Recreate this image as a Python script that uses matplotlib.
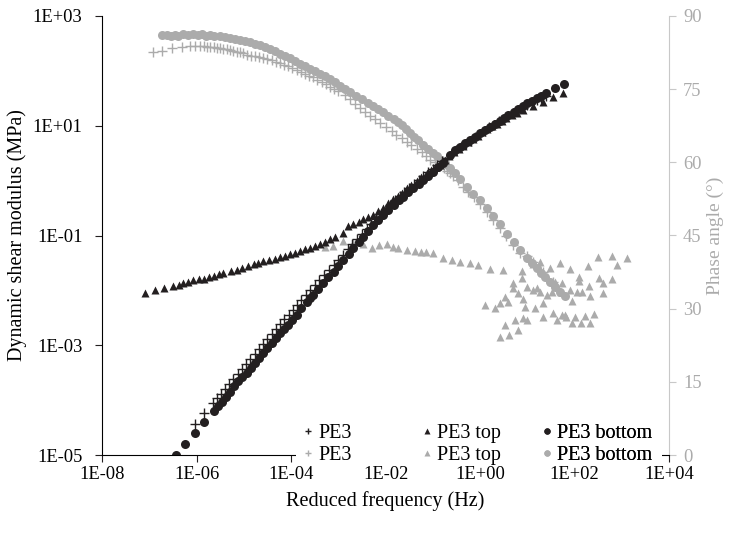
import matplotlib

matplotlib.use("Agg")

import matplotlib.pyplot as plt
import numpy as np
from matplotlib.patches import Rectangle
from matplotlib.ticker import FixedLocator, FuncFormatter

# Master curves: (log10 reduced frequency [Hz], log10 |G*| [MPa])
pe3_modulus = [
    (-6.03, -4.44), (-5.84, -4.24), (-5.66, -4.06), (-5.57, -3.97), (-5.48, -3.88), (-5.40, -3.80),
    (-5.31, -3.71), (-5.22, -3.62), (-5.13, -3.52), (-5.04, -3.43), (-4.95, -3.34), (-4.86, -3.25),
    (-4.77, -3.16), (-4.68, -3.07), (-4.59, -2.98), (-4.50, -2.89), (-4.41, -2.80), (-4.32, -2.71),
    (-4.23, -2.62), (-4.14, -2.53), (-4.05, -2.44), (-3.96, -2.35), (-3.87, -2.27), (-3.78, -2.18),
    (-3.69, -2.09), (-3.60, -2.00), (-3.50, -1.91), (-3.40, -1.82), (-3.30, -1.72), (-3.20, -1.63),
    (-3.10, -1.53), (-3.00, -1.44), (-2.90, -1.35), (-2.80, -1.25), (-2.70, -1.16), (-2.60, -1.06),
    (-2.50, -0.97), (-2.40, -0.88), (-2.30, -0.79), (-2.20, -0.70), (-2.10, -0.61), (-2.00, -0.52),
    (-1.90, -0.44), (-1.80, -0.36), (-1.70, -0.28), (-1.60, -0.20), (-1.50, -0.13), (-1.40, -0.06),
    (-1.30, 0.01), (-1.20, 0.08), (-1.10, 0.15), (-1.00, 0.22), (-0.90, 0.29), (-0.80, 0.36),
    (-0.70, 0.42), (-0.60, 0.48), (-0.50, 0.55), (-0.40, 0.61), (-0.30, 0.67), (-0.20, 0.73),
    (-0.10, 0.79), (0.00, 0.85), (0.10, 0.91), (0.20, 0.97), (0.30, 1.02), (0.40, 1.08),
    (0.50, 1.13), (0.60, 1.18), (0.70, 1.23), (0.80, 1.28), (0.90, 1.33), (1.00, 1.38),
    (1.10, 1.43), (1.20, 1.47), (1.30, 1.51), (1.40, 1.55),
]

top_modulus = [
    (-7.08, -2.04), (-6.88, -2.00), (-6.68, -1.96), (-6.49, -1.92), (-6.38, -1.90), (-6.28, -1.87),
    (-6.17, -1.85), (-6.07, -1.82), (-5.95, -1.80), (-5.84, -1.79), (-5.74, -1.76), (-5.64, -1.74),
    (-5.53, -1.71), (-5.43, -1.69), (-5.26, -1.64), (-5.15, -1.62), (-5.04, -1.59), (-4.91, -1.55),
    (-4.78, -1.52), (-4.69, -1.50), (-4.59, -1.47), (-4.46, -1.44), (-4.34, -1.42), (-4.23, -1.39),
    (-4.13, -1.37), (-4.02, -1.34), (-3.92, -1.31), (-3.81, -1.28), (-3.70, -1.25), (-3.60, -1.22),
    (-3.49, -1.19), (-3.38, -1.16), (-3.28, -1.12), (-3.17, -1.07), (-3.07, -1.02), (-2.91, -0.96),
    (-2.79, -0.83), (-2.68, -0.79), (-2.57, -0.75), (-2.47, -0.70), (-2.36, -0.66), (-2.26, -0.62),
    (-2.15, -0.56), (-2.05, -0.49), (-1.95, -0.41), (-1.84, -0.34), (-1.74, -0.28), (-1.65, -0.22),
    (-1.55, -0.14), (-1.45, -0.08), (-1.34, 0.00), (-1.24, 0.06), (-1.13, 0.13), (-1.03, 0.19),
    (-0.94, 0.24), (-0.85, 0.29), (-0.75, 0.38), (-0.65, 0.45), (-0.55, 0.52), (-0.45, 0.58),
    (-0.35, 0.64), (-0.25, 0.70), (-0.15, 0.76), (-0.05, 0.82), (0.05, 0.88), (0.15, 0.94),
    (0.25, 0.99), (0.36, 1.04), (0.46, 1.09), (0.56, 1.14), (0.67, 1.19), (0.78, 1.23),
    (0.92, 1.29), (1.13, 1.36), (1.34, 1.44), (1.55, 1.52), (1.75, 1.60),
]

bottom_modulus = [
    (-6.43, -5.00), (-6.24, -4.80), (-6.03, -4.59), (-5.84, -4.40), (-5.64, -4.19), (-5.55, -4.11),
    (-5.47, -4.03), (-5.38, -3.94), (-5.29, -3.85), (-5.20, -3.75), (-5.12, -3.66), (-5.03, -3.58),
    (-4.94, -3.50), (-4.85, -3.41), (-4.76, -3.33), (-4.67, -3.24), (-4.59, -3.15), (-4.50, -3.05),
    (-4.41, -2.96), (-4.32, -2.87), (-4.23, -2.78), (-4.14, -2.70), (-4.06, -2.63), (-3.97, -2.54),
    (-3.88, -2.45), (-3.78, -2.33), (-3.67, -2.21), (-3.60, -2.14), (-3.53, -2.08), (-3.43, -1.97),
    (-3.32, -1.87), (-3.21, -1.76), (-3.10, -1.66), (-3.00, -1.55), (-2.89, -1.45), (-2.78, -1.34),
    (-2.68, -1.23), (-2.57, -1.12), (-2.47, -1.02), (-2.36, -0.91), (-2.26, -0.81), (-2.15, -0.72),
    (-2.05, -0.63), (-1.94, -0.53), (-1.83, -0.44), (-1.72, -0.36), (-1.62, -0.29), (-1.52, -0.21),
    (-1.41, -0.14), (-1.30, -0.06), (-1.20, 0.01), (-1.09, 0.09), (-0.99, 0.16), (-0.88, 0.25),
    (-0.78, 0.33), (-0.63, 0.47), (-0.52, 0.55), (-0.42, 0.62), (-0.31, 0.68), (-0.21, 0.74),
    (-0.10, 0.80), (0.00, 0.86), (0.10, 0.92), (0.21, 0.98), (0.31, 1.03), (0.42, 1.09),
    (0.51, 1.15), (0.60, 1.20), (0.71, 1.25), (0.81, 1.30), (0.90, 1.36), (1.00, 1.41),
    (1.10, 1.46), (1.20, 1.50), (1.30, 1.55), (1.40, 1.60), (1.59, 1.68), (1.78, 1.76),
]

# Phase angle curves: (log10 reduced frequency [Hz], phase angle [deg])
pe3_phase = [
    (-6.93, 82.7), (-6.74, 82.9), (-6.52, 83.4), (-6.31, 83.7), (-6.14, 83.8), (-6.03, 83.9),
    (-5.93, 83.9), (-5.85, 83.8), (-5.78, 83.7), (-5.71, 83.7), (-5.64, 83.6), (-5.57, 83.5),
    (-5.50, 83.4), (-5.43, 83.3), (-5.36, 83.2), (-5.29, 83.0), (-5.22, 82.9), (-5.15, 82.7),
    (-5.08, 82.6), (-5.01, 82.4), (-4.94, 82.1), (-4.85, 81.9), (-4.76, 81.7), (-4.68, 81.5),
    (-4.59, 81.3), (-4.50, 81.1), (-4.41, 80.9), (-4.32, 80.6), (-4.23, 80.3), (-4.15, 80.0),
    (-4.06, 79.7), (-3.97, 79.3), (-3.88, 78.9), (-3.79, 78.6), (-3.70, 78.2), (-3.62, 77.8),
    (-3.53, 77.4), (-3.44, 76.9), (-3.35, 76.5), (-3.26, 76.0), (-3.17, 75.5), (-3.08, 75.1),
    (-3.00, 74.6), (-2.86, 73.8), (-2.75, 73.0), (-2.64, 72.0), (-2.54, 71.2), (-2.44, 70.4),
    (-2.33, 69.6), (-2.22, 68.8), (-2.12, 68.0), (-1.99, 67.2), (-1.87, 66.4), (-1.77, 65.6),
    (-1.66, 64.9), (-1.55, 64.2), (-1.45, 63.6), (-1.34, 62.8), (-1.23, 62.1), (-1.15, 61.3),
    (-1.06, 60.5), (-0.96, 60.0), (-0.85, 59.4), (-0.77, 58.8), (-0.70, 58.3), (-0.63, 57.8),
    (-0.57, 57.3), (-0.46, 56.3), (-0.35, 55.0), (-0.25, 54.0), (-0.12, 52.8), (0.00, 51.5),
    (0.14, 49.9), (0.28, 48.2), (0.42, 46.5), (0.56, 44.8), (0.70, 43.1), (0.85, 41.5),
    (0.99, 40.8), (1.13, 39.6), (1.34, 37.5), (1.54, 35.5),
]

top_phase = [
    (-3.28, 42.6), (-3.11, 42.8), (-2.90, 43.9), (-2.69, 43.5), (-2.48, 43.3), (-2.29, 42.4),
    (-2.14, 43.1), (-1.97, 43.3), (-1.84, 42.6), (-1.74, 42.4), (-1.55, 42.0), (-1.38, 41.8),
    (-1.25, 41.6), (-1.14, 41.6), (-1.00, 41.4), (-0.78, 40.4), (-0.59, 40.0), (-0.42, 39.6),
    (-0.21, 39.4), (-0.04, 39.0), (0.21, 38.1), (0.49, 37.9), (0.89, 37.7), (0.89, 36.3),
    (1.12, 39.2), (1.27, 39.6), (1.48, 38.3), (1.69, 39.4), (1.90, 38.1), (2.10, 36.5),
    (2.10, 35.7), (2.29, 38.7), (2.50, 40.6), (2.79, 40.8), (2.90, 39.0), (3.11, 40.4),
    (2.52, 36.3), (2.60, 35.3), (2.79, 36.1), (2.60, 33.2), (2.31, 34.6), (2.33, 32.6),
    (2.16, 33.4), (2.05, 33.4), (1.95, 31.6), (1.90, 33.8), (1.74, 35.3), (1.71, 33.4),
    (1.59, 35.5), (1.52, 33.4), (1.42, 32.8), (1.27, 33.4), (1.21, 34.2), (1.12, 33.8),
    (0.99, 34.4), (0.91, 32.0), (0.80, 33.2), (0.70, 35.3), (0.70, 34.2), (0.59, 31.4),
    (0.53, 32.4), (0.42, 31.2), (0.32, 30.1), (0.11, 30.8), (0.95, 30.3), (1.16, 30.1),
    (1.33, 31.2), (1.33, 28.3), (1.54, 29.1), (1.63, 27.7), (1.74, 28.7), (1.82, 28.3),
    (1.95, 27.1), (2.01, 28.3), (2.14, 27.1), (2.22, 28.5), (2.33, 27.1), (2.41, 28.9),
    (1.80, 28.7), (0.53, 26.7), (0.74, 27.7), (0.80, 25.6), (0.42, 24.2), (0.61, 24.6),
    (0.91, 28.1), (0.99, 27.7),
]

bottom_phase = [
    (-6.73, 86.2), (-6.62, 86.1), (-6.53, 86.0), (-6.45, 86.1), (-6.39, 85.9), (-6.28, 86.3),
    (-6.17, 86.2), (-6.08, 86.4), (-5.96, 86.1), (-5.88, 86.3), (-5.80, 86.0), (-5.71, 86.2),
    (-5.62, 86.0), (-5.50, 85.9), (-5.40, 85.7), (-5.29, 85.5), (-5.19, 85.3), (-5.08, 85.1),
    (-4.98, 84.9), (-4.87, 84.6), (-4.77, 84.3), (-4.66, 84.0), (-4.55, 83.6), (-4.44, 83.2),
    (-4.33, 82.8), (-4.23, 82.3), (-4.12, 81.8), (-4.02, 81.3), (-3.91, 80.7), (-3.81, 80.2),
    (-3.70, 79.7), (-3.60, 79.2), (-3.50, 78.7), (-3.39, 78.2), (-3.28, 77.6), (-3.17, 77.0),
    (-3.07, 76.4), (-2.96, 75.7), (-2.86, 75.0), (-2.75, 74.4), (-2.62, 73.6), (-2.50, 72.9),
    (-2.38, 72.2), (-2.26, 71.5), (-2.15, 70.9), (-2.05, 70.3), (-1.94, 69.6), (-1.83, 68.9),
    (-1.74, 68.2), (-1.66, 67.6), (-1.57, 66.8), (-1.48, 66.0), (-1.40, 65.1), (-1.31, 64.5),
    (-1.20, 63.6), (-1.09, 62.8), (-1.00, 61.9), (-0.92, 61.2), (-0.83, 60.5), (-0.74, 59.9),
    (-0.63, 58.9), (-0.53, 57.8), (-0.42, 56.5), (-0.28, 55.0), (-0.14, 53.6), (0.00, 52.3),
    (0.14, 50.6), (0.28, 48.9), (0.42, 47.3), (0.57, 45.4), (0.71, 43.7), (0.85, 42.0),
    (0.99, 40.3), (1.10, 39.4), (1.20, 38.4), (1.29, 37.4), (1.38, 36.5), (1.49, 35.5),
    (1.59, 34.5), (1.70, 33.5), (1.80, 32.5),
]

x_exponents = [-8, -6, -4, -2, 0, 2, 4]
y_exponents = [-5, -3, -1, 1, 3]
phase_ticks = [0, 15, 30, 45, 60, 75, 90]

BLACK = "#231f20"
GREY = "#ababab"
AXIS_GREY = "#c8c8c8"


def split_log(points):
    arr = np.array(points, dtype=float)
    return 10 ** arr[:, 0], 10 ** arr[:, 1]


def split_phase(points):
    arr = np.array(points, dtype=float)
    return 10 ** arr[:, 0], arr[:, 1]


def exp_label(value, _pos):
    return f"1E{int(round(np.log10(value))):+03d}"


plt.rcParams["font.family"] = ["Liberation Serif", "DejaVu Serif"]
plt.rcParams["font.size"] = 13.3

fig = plt.figure(figsize=(7.29, 5.39), dpi=100)
ax = fig.add_axes([102 / 729, 84 / 539, 567 / 729, 439 / 539])
ax2 = ax.twinx()

# phase angle on the right axis (grey markers)
f, p = split_phase(top_phase)
h_top_p, = ax2.plot(f, p, linestyle="none", marker="^", ms=6.3, color=GREY, mec="none")
f, p = split_phase(pe3_phase)
h_pe3_p, = ax2.plot(f, p, linestyle="none", marker="+", ms=6.5, mew=1.0, color=GREY)
f, p = split_phase(bottom_phase)
h_bot_p, = ax2.plot(f, p, linestyle="none", marker="o", ms=6.5, color=GREY, mec="none")

# modulus on the left axis (black markers)
f, g = split_log(pe3_modulus)
h_pe3_g, = ax.plot(f, g, linestyle="none", marker="+", ms=6.5, mew=1.0, color=BLACK)
f, g = split_log(top_modulus)
h_top_g, = ax.plot(f, g, linestyle="none", marker="^", ms=6.3, color=BLACK, mec="none")
f, g = split_log(bottom_modulus)
h_bot_g, = ax.plot(f, g, linestyle="none", marker="o", ms=6.5, color=BLACK, mec="none")

ax.set_zorder(ax2.get_zorder() + 1)
ax.patch.set_visible(False)

ax.set_xscale("log")
ax.set_yscale("log")
ax.set_xlim(1e-8, 1e4)
ax.set_ylim(1e-5, 1e3)
ax.xaxis.set_major_locator(FixedLocator([10.0 ** e for e in x_exponents]))
ax.yaxis.set_major_locator(FixedLocator([10.0 ** e for e in y_exponents]))
ax.xaxis.set_major_formatter(FuncFormatter(exp_label))
ax.yaxis.set_major_formatter(FuncFormatter(exp_label))
ax.xaxis.set_minor_locator(FixedLocator([]))
ax.yaxis.set_minor_locator(FixedLocator([]))
ax.tick_params(axis="x", direction="out", length=5, width=0.8, color=BLACK, pad=3)
ax.tick_params(axis="y", direction="out", length=5, width=0.8, color=BLACK, pad=9)

ax2.set_ylim(0, 90)
ax2.set_yticks(phase_ticks)
ax2.tick_params(direction="out", length=5, width=0.8, color=AXIS_GREY, labelcolor=GREY, pad=5)

ax.spines["top"].set_visible(False)
ax.spines["right"].set_visible(False)
ax2.spines["top"].set_visible(False)
ax2.spines["left"].set_visible(False)
ax2.spines["bottom"].set_visible(False)
ax2.spines["right"].set_color(AXIS_GREY)

ax.set_xlabel("Reduced frequency (Hz)", fontsize=14.5, labelpad=6)
ax.set_ylabel("Dynamic shear modulus (MPa)", fontsize=14.5, labelpad=4)
ax2.set_ylabel("Phase angle (°)", color=GREY, fontsize=14, labelpad=4)

# white legend background sits over the bottom axis line and its ticks
ax.add_patch(Rectangle((0.342, -0.019), 0.646, 0.103, transform=ax.transAxes,
                       facecolor="white", edgecolor="none", zorder=2.6, clip_on=False))

# three legend columns laid out side by side: black row above grey row
columns = [
    ([h_pe3_g, h_pe3_p], ["PE3", "PE3"], 0.353),
    ([h_top_g, h_top_p], ["PE3 top", "PE3 top"], 0.563),
    ([h_bot_g, h_bot_p], ["PE3 bottom", "PE3 bottom"], 0.774),
]
for handles, labels, x0 in columns:
    leg = ax.legend(handles, labels, loc="lower left", bbox_to_anchor=(x0, -0.022),
                    frameon=False, markerscale=0.7, handlelength=0.6, handletextpad=0.2,
                    labelspacing=0.12, borderpad=0, borderaxespad=0, fontsize=14.5)
    leg.set_zorder(3)
    ax.add_artist(leg)

fig.savefig("out.png", dpi=100)
